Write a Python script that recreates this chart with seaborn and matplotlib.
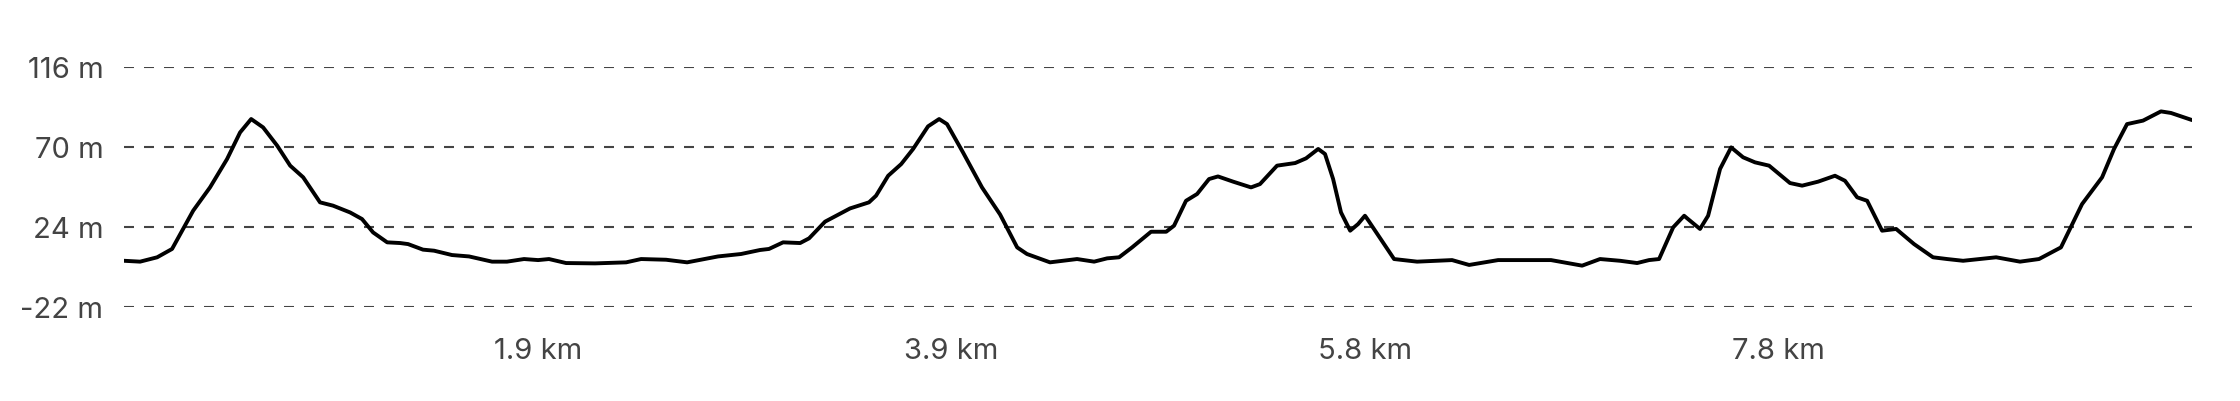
import matplotlib
matplotlib.use("Agg")
import matplotlib.pyplot as plt
import seaborn as sns
import pandas as pd

distancia_km = [
    0.000, 0.075, 0.155, 0.225, 0.272, 0.324, 0.403, 0.483, 0.544, 0.596,
    0.652, 0.718, 0.779, 0.840, 0.919, 0.980, 1.060, 1.116, 1.168, 1.234,
    1.295, 1.332, 1.402, 1.454, 1.538, 1.618, 1.726, 1.796, 1.876, 1.942,
    1.993, 2.073, 2.209, 2.355, 2.425, 2.542, 2.641, 2.786, 2.894, 2.983,
    3.025, 3.091, 3.171, 3.213, 3.288, 3.405, 3.494, 3.527, 3.584, 3.645,
    3.701, 3.771, 3.823, 3.860, 3.935, 4.024, 4.109, 4.189, 4.235, 4.343,
    4.470, 4.550, 4.611, 4.667, 4.728, 4.817, 4.888, 4.925, 4.981, 5.033,
    5.089, 5.131, 5.202, 5.286, 5.328, 5.408, 5.493, 5.544, 5.601, 5.633,
    5.671, 5.708, 5.751, 5.788, 5.821, 5.868, 5.957, 6.065, 6.229, 6.309,
    6.445, 6.693, 6.839, 6.923, 7.017, 7.097, 7.153, 7.200, 7.266, 7.317,
    7.392, 7.430, 7.486, 7.538, 7.594, 7.650, 7.716, 7.814, 7.871, 7.946,
    8.025, 8.072, 8.129, 8.176, 8.246, 8.312, 8.396, 8.485, 8.551, 8.626,
    8.781, 8.893, 8.982, 9.085, 9.184, 9.278, 9.334, 9.395, 9.470, 9.554,
    9.601, 9.700,
]
altitud_m = [
    4.4, 3.9, 6.4, 11.2, 21.7, 33.2, 46.6, 62.9, 78.2, 85.9,
    81.1, 70.6, 59.1, 52.4, 38.0, 36.1, 32.2, 28.4, 20.7, 15.0,
    14.6, 14.0, 10.8, 10.2, 7.7, 6.9, 3.9, 3.9, 5.4, 4.8,
    5.4, 3.1, 2.9, 3.5, 5.4, 5.0, 3.5, 6.9, 8.3, 10.6,
    11.2, 15.0, 14.6, 17.3, 26.9, 34.5, 38.0, 41.8, 53.3, 60.0,
    68.7, 81.7, 85.9, 83.0, 66.7, 46.6, 31.0, 12.1, 8.3, 3.5,
    5.4, 3.9, 5.8, 6.4, 12.1, 21.1, 21.1, 24.6, 38.9, 42.8,
    51.4, 52.9, 49.9, 46.6, 48.5, 59.1, 60.6, 63.3, 68.7, 65.8,
    51.4, 32.2, 21.7, 25.5, 30.3, 21.7, 5.4, 3.9, 4.8, 2.0,
    4.8, 4.8, 1.6, 5.4, 4.4, 3.1, 4.8, 5.4, 23.6, 30.3,
    22.7, 30.3, 57.2, 69.6, 63.9, 61.0, 59.1, 49.1, 47.6, 49.9,
    53.3, 50.4, 40.9, 38.9, 21.7, 22.7, 14.0, 6.4, 5.4, 4.4,
    6.4, 3.9, 5.4, 12.1, 37.0, 52.4, 68.7, 83.0, 85.0, 90.3,
    89.4, 85.3,
]

total_km = 9.7
ticks_x = [total_km * k / 5 for k in range(1, 5)]
etiquetas_x = ["1.9 km", "3.9 km", "5.8 km", "7.8 km"]
ticks_y = [-22, 24, 70, 116]
etiquetas_y = ["-22 m", "24 m", "70 m", "116 m"]

df = pd.DataFrame({"km": distancia_km, "m": altitud_m})

sns.set_style("white")
plt.rcParams["font.family"] = ["Inter", "DejaVu Sans"]

fig = plt.figure(figsize=(22.4, 4.02), dpi=100)
ax = fig.add_axes([0.0554, 0.2346, 0.9232, 0.597])

sns.lineplot(data=df, x="km", y="m", ax=ax, color="black", linewidth=2.8,
             solid_joinstyle="round", solid_capstyle="round")

ax.set_xlim(0, total_km)
ax.set_ylim(-22, 116)
ax.set_xticks(ticks_x)
ax.set_xticklabels(etiquetas_x)
ax.set_yticks(ticks_y)
ax.set_yticklabels(etiquetas_y)
ax.set_xlabel("")
ax.set_ylabel("")

ax.grid(axis="y", color="#444444", linewidth=1.5, linestyle=(0, (4.8, 4.8)))
ax.grid(axis="x", visible=False)
ax.set_axisbelow(True)
for s in ax.spines.values():
    s.set_visible(False)
ax.tick_params(axis="both", length=0, labelsize=21, colors="#444444")
ax.tick_params(axis="x", pad=22)
ax.tick_params(axis="y", pad=15)

fig.savefig("out.png", dpi=100)
